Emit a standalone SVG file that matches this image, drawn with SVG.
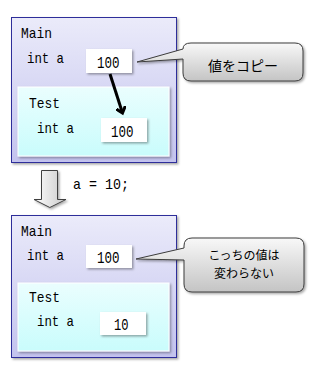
<svg xmlns="http://www.w3.org/2000/svg" width="330" height="370" viewBox="0 0 330 370">
<defs>
<linearGradient id="gMain" x1="0" y1="0" x2="0" y2="1"><stop offset="0" stop-color="#ebebfa"/><stop offset="1" stop-color="#c3c3ee"/></linearGradient>
<linearGradient id="gTest" x1="0" y1="0" x2="0" y2="1"><stop offset="0" stop-color="#eafefe"/><stop offset="1" stop-color="#c9fcfc"/></linearGradient>
<linearGradient id="gCall" x1="0" y1="0" x2="0" y2="1"><stop offset="0" stop-color="#f8f8f8"/><stop offset="1" stop-color="#c4c4c4"/></linearGradient>
<linearGradient id="gArrow" x1="0" y1="0" x2="1" y2="0"><stop offset="0" stop-color="#ffffff"/><stop offset="1" stop-color="#c8c8c8"/></linearGradient>
<filter id="sh" x="-10%" y="-10%" width="130%" height="130%"><feDropShadow dx="1.5" dy="1.5" stdDeviation="1.2" flood-color="#000" flood-opacity="0.35"/></filter>
<marker id="ah" markerWidth="10" markerHeight="10" refX="6" refY="5" orient="auto" markerUnits="userSpaceOnUse" viewBox="0 0 10 10"><path d="M0,0 L6,5 L0,10" fill="none" stroke="#000" stroke-width="3" stroke-linejoin="miter"/></marker>
</defs>
<style>
.main{fill:url(#gMain);stroke:#2f2f9a;stroke-width:1}
.test{fill:url(#gTest);stroke:#ffffff;stroke-width:1}
.val{fill:#ffffff;filter:url(#sh)}
.call{fill:url(#gCall);stroke:#3c3c3c;stroke-width:1;filter:url(#sh)}
.t{font-family:"Liberation Mono","DejaVu Sans Mono",monospace;font-size:15px;fill:#000}
.n{font-family:"Liberation Mono","DejaVu Sans Mono",monospace;font-size:17px;fill:#000}
.j{font-family:"Noto Sans CJK JP",sans-serif;font-size:14px;fill:#000;text-anchor:middle}
.j2{font-family:"Noto Sans CJK JP",sans-serif;font-size:12px;fill:#000;text-anchor:middle}
</style>

<g id="main1">
<rect class="main" x="11.5" y="17.5" width="165" height="145" filter="url(#sh)"/>
<text class="t" x="21" y="38" textLength="31" lengthAdjust="spacingAndGlyphs">Main</text>
<text class="t" x="27" y="63" textLength="37" lengthAdjust="spacingAndGlyphs">int a</text>
<rect class="val" x="86" y="49" width="46" height="24"/>
<text class="n" x="97" y="68" textLength="22.5" lengthAdjust="spacingAndGlyphs">100</text>
</g>
<g id="test1">
<rect class="test" x="18" y="87" width="151" height="69" filter="url(#sh)"/>
<text class="t" x="29" y="108" textLength="31" lengthAdjust="spacingAndGlyphs">Test</text>
<text class="t" x="37" y="133" textLength="37" lengthAdjust="spacingAndGlyphs">int a</text>
<rect class="val" x="101" y="118" width="46" height="24"/>
<text class="n" x="111" y="137" textLength="22.5" lengthAdjust="spacingAndGlyphs">100</text>
</g>
<g id="callout1">
<path class="call" d="M191,43 H295 Q303,43 303,51 V73 Q303,81 295,81 H191 Q183,81 183,73 V59 L137,62 L183,49 Q183,43 191,43 Z"/>
<text class="j" x="243" y="71">値をコピー</text>
</g>

<g id="step">
<path d="M41.5,170.5 H57.5 V199.5 H66 L49.8,207.5 L34,199.5 H41.5 Z" fill="url(#gArrow)" stroke="#404040" stroke-width="1" filter="url(#sh)"/>
<text class="t" x="73" y="189" textLength="56" lengthAdjust="spacingAndGlyphs">a = 10;</text>
</g>

<g id="main2">
<rect class="main" x="11.5" y="215.5" width="165" height="142" filter="url(#sh)"/>
<text class="t" x="21" y="236" textLength="31" lengthAdjust="spacingAndGlyphs">Main</text>
<text class="t" x="27" y="260" textLength="37" lengthAdjust="spacingAndGlyphs">int a</text>
<rect class="val" x="86" y="245" width="46" height="23"/>
<text class="n" x="97" y="263" textLength="22.5" lengthAdjust="spacingAndGlyphs">100</text>
</g>
<g id="test2">
<rect class="test" x="18" y="283" width="151" height="68" filter="url(#sh)"/>
<text class="t" x="29" y="302" textLength="31" lengthAdjust="spacingAndGlyphs">Test</text>
<text class="t" x="37" y="326" textLength="37" lengthAdjust="spacingAndGlyphs">int a</text>
<rect class="val" x="100" y="312" width="46" height="23"/>
<text class="n" x="114" y="330" textLength="14.5" lengthAdjust="spacingAndGlyphs">10</text>
</g>
<g id="callout2">
<path class="call" d="M192,238 H296 Q304,238 304,246 V284 Q304,292 296,292 H192 Q184,292 184,284 V260 L136,259 L184,248 V246 Q184,238 192,238 Z"/>
<text class="j2" x="244" y="260">こっちの値は</text>
<text class="j2" x="244" y="278">変わらない</text>
</g>

<g id="connectors">
<line x1="110" y1="74" x2="122.5" y2="113" stroke="#000" stroke-width="3" marker-end="url(#ah)"/>
</g>
</svg>
